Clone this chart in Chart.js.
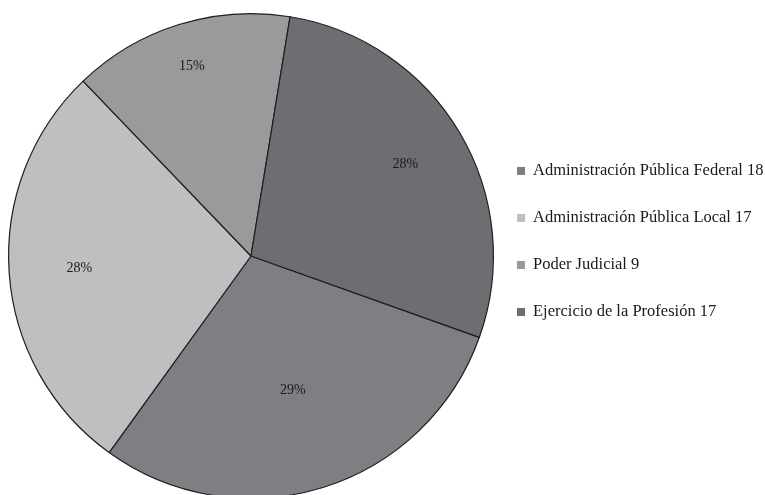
<!DOCTYPE html>
<html>
<head>
<meta charset="utf-8">
<script src="https://cdn.jsdelivr.net/npm/chart.js@4.4.1/dist/chart.umd.min.js"></script>
<style>
  html, body { margin: 0; padding: 0; background: #ffffff; overflow: hidden; }
  #wrap { position: relative; width: 765px; height: 512px; }
</style>
</head>
<body>
<div id="wrap"><canvas id="c"></canvas></div>
<script>
const categories = [
  'Administración Pública Federal',
  'Administración Pública Local',
  'Poder Judicial',
  'Ejercicio de la Profesión'
];
const values = [18, 17, 9, 17];
const sliceColors = ['#7f7f83', '#bfbfc2', '#9a9a9d', '#6e6e72'];

// largest-remainder rounding of percentages
function percentLabels(vals) {
  const total = vals.reduce((a, b) => a + b, 0);
  const raw = vals.map(v => v / total * 100);
  const fl = raw.map(Math.floor);
  let rest = 100 - fl.reduce((a, b) => a + b, 0);
  const order = raw.map((r, i) => [r - Math.floor(r), i]).sort((a, b) => b[0] - a[0]);
  for (let k = 0; k < rest; k++) fl[order[k][1]]++;
  return fl.map(p => p + '%');
}

const sliceLabelPlugin = {
  id: 'sliceLabels',
  afterDatasetsDraw(chart, args, opts) {
    const ctx = chart.ctx;
    const meta = chart.getDatasetMeta(0);
    const labels = percentLabels(chart.data.datasets[0].data);
    ctx.save();
    ctx.font = opts.font;
    ctx.fillStyle = opts.color;
    ctx.textAlign = 'center';
    ctx.textBaseline = 'middle';
    meta.data.forEach((arc, i) => {
      const p = arc.getProps(['x', 'y', 'startAngle', 'endAngle', 'outerRadius'], true);
      const mid = (p.startAngle + p.endAngle) / 2;
      const r = p.outerRadius * opts.radius[i];
      ctx.fillText(labels[i], p.x + Math.cos(mid) * r, p.y + Math.sin(mid) * r);
    });
    ctx.restore();
  }
};

const sideLegendPlugin = {
  id: 'sideLegend',
  afterDraw(chart, args, opts) {
    const ctx = chart.ctx;
    const ds = chart.data.datasets[0];
    ctx.save();
    ctx.font = opts.font;
    ctx.textBaseline = 'middle';
    ctx.textAlign = 'left';
    chart.data.labels.forEach((lab, i) => {
      const y = opts.top + i * opts.step;
      ctx.fillStyle = ds.backgroundColor[i];
      ctx.fillRect(opts.left, y - opts.box / 2, opts.box, opts.box);
      ctx.fillStyle = opts.color;
      ctx.fillText(lab + ' ' + ds.data[i], opts.left + opts.box + opts.gap, y);
    });
    ctx.restore();
  }
};

new Chart(document.getElementById('c'), {
  type: 'pie',
  data: {
    labels: categories,
    datasets: [{
      data: values,
      backgroundColor: sliceColors,
      borderColor: '#1e1e1e',
      borderWidth: 1.2
    }]
  },
  options: {
    responsive: true,
    maintainAspectRatio: false,
    animation: false,
    rotation: 109.6,
    layout: { padding: { left: 8, top: 13, right: 271, bottom: 13 } },
    plugins: {
      legend: { display: false },
      tooltip: { enabled: false },
      sliceLabels: {
        font: '14px "Liberation Serif"',
        color: '#1a1a1a',
        radius: [0.58, 0.71, 0.82, 0.74]
      },
      sideLegend: {
        font: '16.5px "Liberation Serif"',
        color: '#1a1a1a',
        left: 517,
        top: 171,
        step: 47,
        box: 8,
        gap: 8
      }
    }
  },
  plugins: [sliceLabelPlugin, sideLegendPlugin]
});
</script>
</body>
</html>
